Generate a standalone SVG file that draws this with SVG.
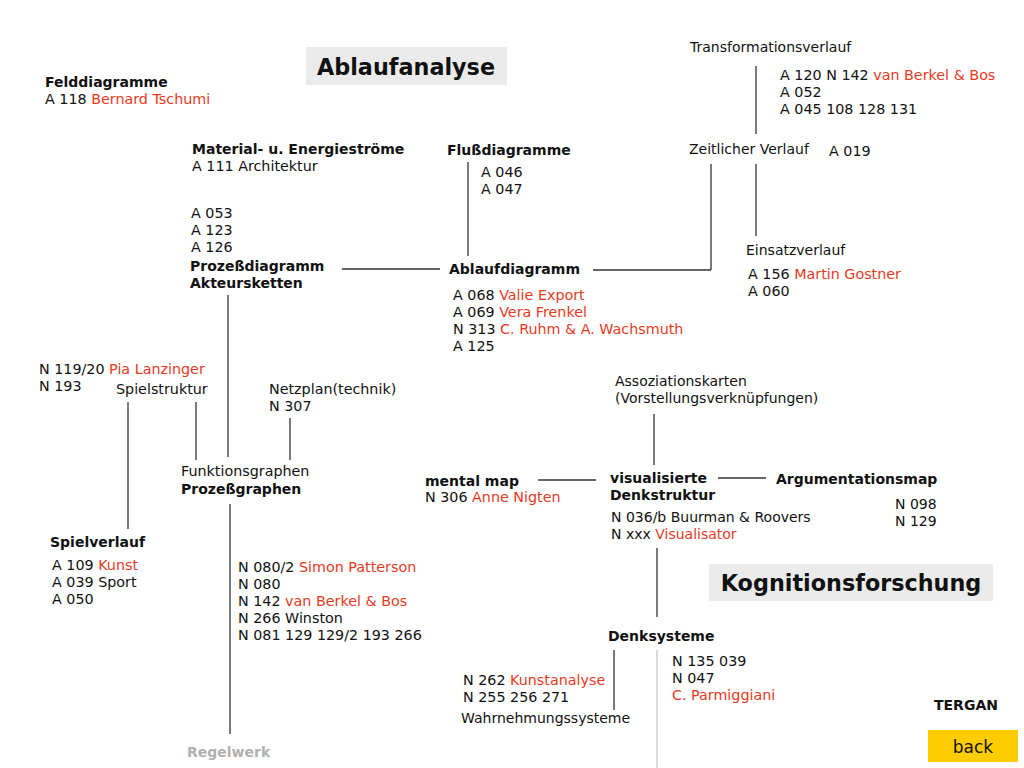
<svg xmlns="http://www.w3.org/2000/svg" width="1024" height="768" viewBox="0 0 1024 768">
<style>
text{font-family:"DejaVu Sans","Verdana",sans-serif;font-size:14.3px;fill:#111}
.t{font-size:14px}
.b{font-weight:bold;font-size:14px}
.r{fill:#e63a1e}
.h{font-weight:bold;font-size:22.3px}
.g{fill:#b0b0b0}
.ln line{stroke:#333;stroke-width:1.3}
.lt{stroke:#c8c8c8!important}
.box{fill:#ebebeb}
</style>
<rect width="1024" height="768" fill="#fff"/>
<g id="connectors" class="ln">
<line x1="756" y1="66" x2="756" y2="134"/>
<line x1="468" y1="162" x2="468" y2="256"/>
<line x1="711" y1="164" x2="711" y2="270"/>
<line x1="593" y1="270" x2="711" y2="270"/>
<line x1="756" y1="164" x2="756" y2="236"/>
<line x1="342" y1="269" x2="440" y2="269"/>
<line x1="228" y1="295" x2="228" y2="457"/>
<line x1="128" y1="402" x2="128" y2="529"/>
<line x1="196" y1="402" x2="196" y2="460"/>
<line x1="290" y1="418" x2="290" y2="460"/>
<line x1="230" y1="504" x2="230" y2="734"/>
<line x1="654" y1="414" x2="654" y2="465"/>
<line x1="538" y1="480" x2="596" y2="480"/>
<line x1="718" y1="478" x2="766" y2="478"/>
<line x1="657" y1="548" x2="657" y2="617"/>
<line x1="614" y1="650" x2="614" y2="710"/>
<line class="lt" x1="657" y1="650" x2="657" y2="768"/>
</g>
<g id="title-ablaufanalyse"><rect class="box" x="306" y="47" width="201" height="38"/><text class="h" x="406" y="75" text-anchor="middle">Ablaufanalyse</text></g>
<g id="felddiagramme"><text class="b" x="45" y="87">Felddiagramme</text><text x="45" y="104">A 118 <tspan class="r">Bernard Tschumi</tspan></text></g>
<g id="transformationsverlauf"><text class="t" x="690" y="52">Transformationsverlauf</text><text x="780" y="80">A 120 N 142 <tspan class="r">van Berkel &amp; Bos</tspan></text><text x="780" y="97">A 052</text><text x="780" y="114">A 045 108 128 131</text></g>
<g id="zeitlicher-verlauf"><text class="t" x="689" y="154">Zeitlicher Verlauf</text><text x="829" y="156">A 019</text></g>
<g id="material"><text class="b" x="192" y="154">Material- u. Energieströme</text><text x="192" y="171">A 111 Architektur</text></g>
<g id="flussdiagramme"><text class="b" x="447" y="155">Flußdiagramme</text><text x="481" y="177">A 046</text><text x="481" y="194">A 047</text></g>
<g id="einsatzverlauf"><text class="t" x="746" y="255">Einsatzverlauf</text><text x="748" y="279">A 156 <tspan class="r">Martin Gostner</tspan></text><text x="748" y="296">A 060</text></g>
<g id="prozessdiagramm"><text x="191" y="218">A 053</text><text x="191" y="235">A 123</text><text x="191" y="252">A 126</text><text class="b" x="190" y="271">Prozeßdiagramm</text><text class="b" x="190" y="288">Akteursketten</text></g>
<g id="ablaufdiagramm"><text class="b" x="449" y="274">Ablaufdiagramm</text><text x="453" y="300">A 068 <tspan class="r">Valie Export</tspan></text><text x="453" y="317">A 069 <tspan class="r">Vera Frenkel</tspan></text><text x="453" y="334">N 313 <tspan class="r">C. Ruhm &amp; A. Wachsmuth</tspan></text><text x="453" y="351">A 125</text></g>
<g id="lanzinger"><text x="39" y="374">N 119/20 <tspan class="r">Pia Lanzinger</tspan></text><text x="39" y="391">N 193</text></g>
<g id="spielstruktur"><text x="116" y="394">Spielstruktur</text></g>
<g id="netzplan"><text x="269" y="394">Netzplan(technik)</text><text x="269" y="411">N 307</text></g>
<g id="funktionsgraphen"><text x="181" y="476">Funktionsgraphen</text><text class="b" x="181" y="494">Prozeßgraphen</text></g>
<g id="spielverlauf"><text class="b" x="50" y="547">Spielverlauf</text><text x="52" y="570">A 109 <tspan class="r">Kunst</tspan></text><text x="52" y="587">A 039 Sport</text><text x="52" y="604">A 050</text></g>
<g id="prozessgraphen-refs"><text x="238" y="572">N 080/2 <tspan class="r">Simon Patterson</tspan></text><text x="238" y="589">N 080</text><text x="238" y="606">N 142 <tspan class="r">van Berkel &amp; Bos</tspan></text><text x="238" y="623">N 266 Winston</text><text x="238" y="640">N 081 129 129/2 193 266</text></g>
<g id="regelwerk"><text class="b g" x="187" y="757">Regelwerk</text></g>
<g id="assoziationskarten"><text class="t" x="615" y="386">Assoziationskarten</text><text class="t" x="615" y="403">(Vorstellungsverknüpfungen)</text></g>
<g id="mental-map"><text class="b" x="425" y="486">mental map</text><text x="425" y="502">N 306 <tspan class="r">Anne Nigten</tspan></text></g>
<g id="visualisierte-denkstruktur"><text class="b" x="610" y="483">visualisierte</text><text class="b" x="610" y="500">Denkstruktur</text><text class="t" x="611" y="522">N 036/b Buurman &amp; Roovers</text><text class="t" x="611" y="539">N xxx <tspan class="r">Visualisator</tspan></text></g>
<g id="argumentationsmap"><text class="b" x="776" y="484">Argumentationsmap</text><text class="t" x="895" y="509">N 098</text><text class="t" x="895" y="526">N 129</text></g>
<g id="title-kognitionsforschung"><rect class="box" x="709" y="564" width="284" height="37"/><text class="h" x="851" y="591" text-anchor="middle">Kognitionsforschung</text></g>
<g id="denksysteme"><text class="b" x="608" y="641">Denksysteme</text><text x="672" y="666">N 135 039</text><text x="672" y="683">N 047</text><text class="r" x="672" y="700">C. Parmiggiani</text></g>
<g id="wahrnehmungssysteme"><text x="463" y="685">N 262 <tspan class="r">Kunstanalyse</tspan></text><text x="463" y="702">N 255 256 271</text><text class="t" x="461" y="723">Wahrnehmungssysteme</text></g>
<g id="tergan"><text class="b" x="934" y="710">TERGAN</text></g>
<g id="back"><rect x="928" y="730" width="90" height="32" fill="#ffcc00"/><text x="973" y="753" text-anchor="middle" style="font-size:17px">back</text></g>
</svg>
